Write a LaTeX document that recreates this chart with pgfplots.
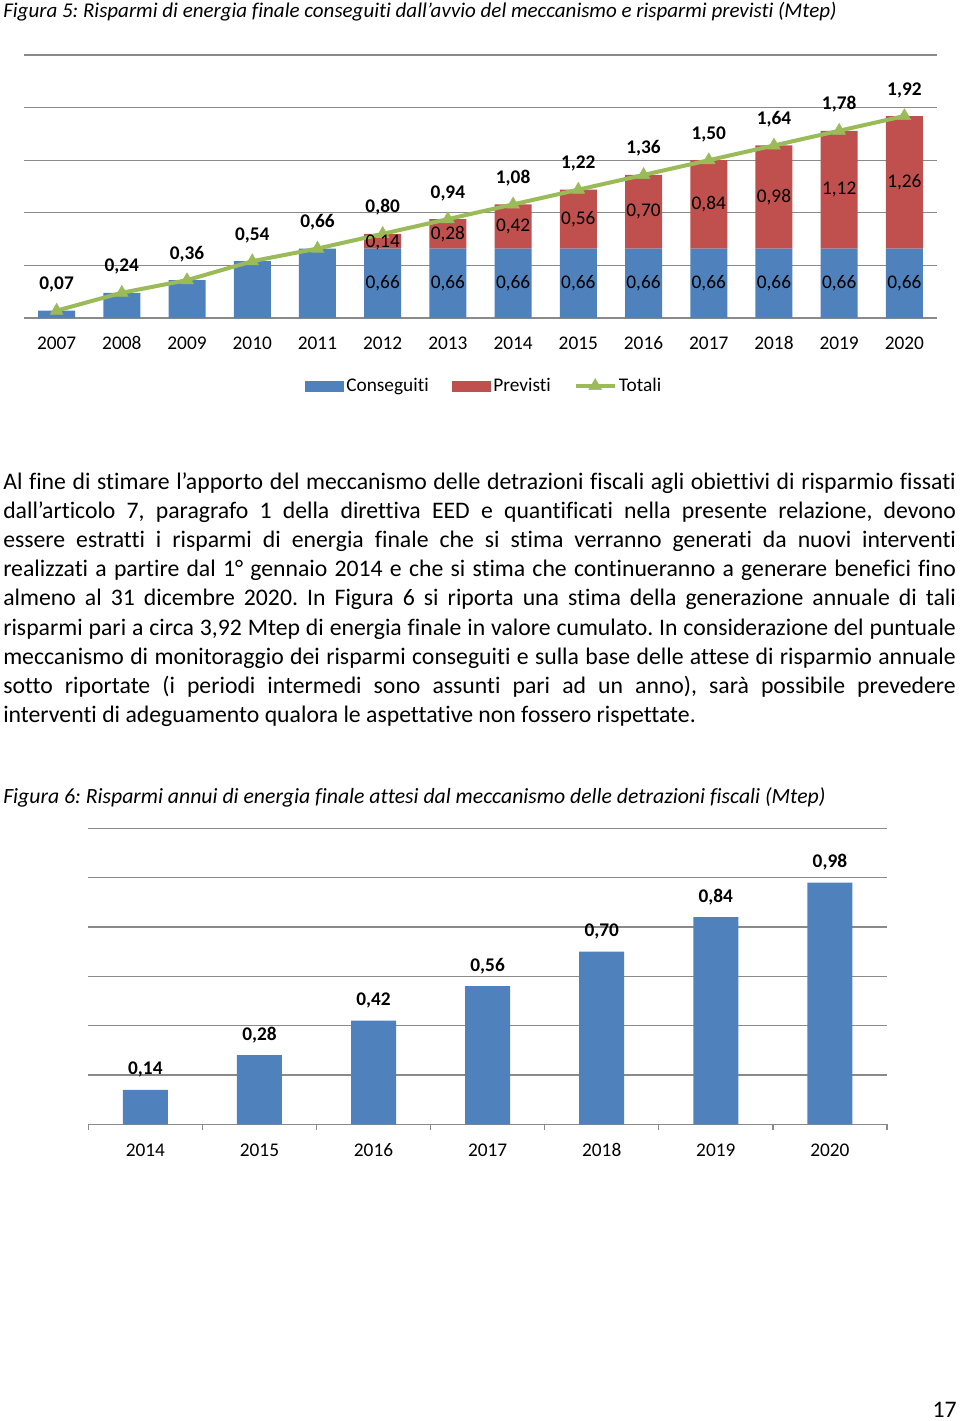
\documentclass[border=0pt]{standalone}
\usepackage{fontspec}
\setmainfont{Carlito}[Ligatures={NoCommon,NoContextual,NoRare}]
\usepackage{pgfplots}
\usepackage{pgfplotstable}
\pgfplotsset{compat=1.18}
\definecolor{cblue}{HTML}{4F81BD}
\definecolor{cred}{HTML}{C0504D}
\definecolor{cgreen}{HTML}{9BBB59}
\definecolor{gridgray}{HTML}{8A8A8A}
\newcommand{\chartfont}{\fontsize{14.5}{17}\selectfont}
\newcommand{\bodyfont}{\fontsize{17.8}{21.9}\selectfont}
\frenchspacing
\pgfplotsset{lineleg/.style={legend image code/.code={\draw[mark repeat=2,mark phase=2,##1] plot coordinates {(0pt,0pt) (14.5pt,0pt) (29pt,0pt)};}}}

\pgfplotstableread{
x c p t
0 0.07 0 0.07
1 0.24 0 0.24
2 0.36 0 0.36
3 0.54 0 0.54
4 0.66 0 0.66
5 0.66 0.14 0.80
6 0.66 0.28 0.94
7 0.66 0.42 1.08
8 0.66 0.56 1.22
9 0.66 0.70 1.36
10 0.66 0.84 1.50
11 0.66 0.98 1.64
12 0.66 1.12 1.78
13 0.66 1.26 1.92
}\figA

\pgfplotstableread{
x y label
5 0.33 0,66
6 0.33 0,66
7 0.33 0,66
8 0.33 0,66
9 0.33 0,66
10 0.33 0,66
11 0.33 0,66
12 0.33 0,66
13 0.33 0,66
5 0.72 0,14
6 0.80 0,28
7 0.87 0,42
8 0.94 0,56
9 1.01 0,70
10 1.08 0,84
11 1.15 0,98
12 1.22 1,12
13 1.29 1,26
}\figAlabels

\pgfplotstableread{
x v
0 0.14
1 0.28
2 0.42
3 0.56
4 0.70
5 0.84
6 0.98
}\figB

\begin{document}
\begin{tikzpicture}
\path[use as bounding box] (0pt,0pt) rectangle (720pt,-1065.75pt);

% Titles
\node[anchor=base west, inner sep=0pt] at (2.25pt,-13pt) {\fontsize{15.75}{19}\selectfont\itshape Figura 5: Risparmi di energia finale conseguiti dall’avvio del meccanismo e risparmi previsti (Mtep)};

% Chart 1: stacked bars
\begin{axis}[
  at={(18pt,-238.5pt)}, anchor=south west,
  scale only axis, width=684.75pt, height=197.25pt,
  ybar stacked, bar width=27.75pt,
  xmin=-0.5, xmax=13.5, ymin=0, ymax=2.5,
  ytick={0,0.5,1,1.5,2,2.5}, yticklabels={}, ymajorgrids,
  grid style={draw=gridgray, line width=1pt},
  axis line style={draw=none},
  major tick length=0pt,
  xtick={0,1,2,3,4,5,6,7,8,9,10,11,12,13},
  xticklabels={2007,2008,2009,2010,2011,2012,2013,2014,2015,2016,2017,2018,2019,2020},
  xticklabel style={font=\chartfont, anchor=base, yshift=-23.8pt},
]
\addplot[fill=cblue, draw=none] table[x=x, y=c] {\figA};
\addplot[fill=cred, draw=none] table[x=x, y=p] {\figA};
\end{axis}

% Chart 1 overlay: line, labels, legend
\begin{axis}[
  at={(18pt,-238.5pt)}, anchor=south west,
  scale only axis, width=684.75pt, height=197.25pt,
  xmin=-0.5, xmax=13.5, ymin=0, ymax=2.5,
  hide axis, clip=false,
  legend columns=3,
  legend cell align=left,
  legend style={at={(0.504,-0.2586)}, anchor=center, draw=none, fill=none,
    font=\chartfont, nodes={inner sep=1.8pt},
    /tikz/every even column/.append style={column sep=15.5pt}},
]
\addlegendimage{legend image code/.code={\fill[cblue] (0pt,-3.75pt) rectangle (29pt,3.75pt);}}
\addlegendentry{Conseguiti}
\addlegendimage{legend image code/.code={\fill[cred] (0pt,-3.75pt) rectangle (29pt,3.75pt);}}
\addlegendentry{Previsti}
\addplot[color=cgreen, line width=3pt, mark=triangle*, mark size=5.5pt,
  mark options={solid, line width=0.4pt, fill=cgreen, draw=cgreen},
  lineleg,
  nodes near coords={\pgfmathprintnumber[fixed,fixed zerofill,precision=2,use comma,assume math mode=true]{\pgfplotspointmeta}},
  every node near coord/.append style={font=\chartfont\bfseries, text=black, anchor=base, yshift=15.75pt},
] table[x=x, y=t] {\figA};
\addlegendentry{Totali}
\addplot[draw=none, mark=none, forget plot,
  nodes near coords, point meta=explicit symbolic,
  every node near coord/.append style={font=\chartfont, text=black, anchor=center},
] table[x=x, y=y, meta=label] {\figAlabels};
\end{axis}

% Body text
\begin{scope}[every node/.style={anchor=base west, inner sep=0pt, font=\bodyfont}]
\node at (2.25pt,-366.75pt) {\hbox to 714.5pt{Al fine di stimare l’apporto del meccanismo delle detrazioni fiscali agli obiettivi di risparmio fissati}};
\node at (2.25pt,-388.65pt) {\hbox to 714.5pt{dall’articolo 7, paragrafo 1 della direttiva EED e quantificati nella presente relazione, devono}};
\node at (2.25pt,-410.55pt) {\hbox to 714.5pt{essere estratti i risparmi di energia finale che si stima verranno generati da nuovi interventi}};
\node at (2.25pt,-432.45pt) {\hbox to 714.5pt{realizzati a partire dal 1° gennaio 2014 e che si stima che continueranno a generare benefici fino}};
\node at (2.25pt,-454.35pt) {\hbox to 714.5pt{almeno al 31 dicembre 2020. In Figura 6 si riporta una stima della generazione annuale di tali}};
\node at (2.25pt,-476.25pt) {\hbox to 714.5pt{risparmi pari a circa 3,92 Mtep di energia finale in valore cumulato. In considerazione del puntuale}};
\node at (2.25pt,-498.15pt) {\hbox to 714.5pt{meccanismo di monitoraggio dei risparmi conseguiti e sulla base delle attese di risparmio annuale}};
\node at (2.25pt,-520.05pt) {\hbox to 714.5pt{sotto riportate (i periodi intermedi sono assunti pari ad un anno), sarà possibile prevedere}};
\node at (2.25pt,-541.95pt) {interventi di adeguamento qualora le aspettative non fossero rispettate.};
\end{scope}

\node[anchor=base west, inner sep=0pt] at (2.25pt,-602.5pt) {\fontsize{16.3}{19}\selectfont\itshape Figura 6: Risparmi annui di energia finale attesi dal meccanismo delle detrazioni fiscali (Mtep)};

% Chart 2
\begin{axis}[
  at={(66.225pt,-843.225pt)}, anchor=south west,
  scale only axis, width=599pt, height=222pt,
  ybar, bar width=33.75pt,
  xmin=-0.5, xmax=6.5, ymin=0, ymax=1.2,
  ytick={0,0.2,0.4,0.6,0.8,1,1.2}, yticklabels={}, ymajorgrids,
  grid style={draw=gridgray, line width=1pt},
  axis line style={draw=none},
  ytick style={draw=none},
  xtick={0,1,2,3,4,5,6},
  xticklabels={2014,2015,2016,2017,2018,2019,2020},
  major tick length=0pt,
  minor xtick={-0.5,0.5,1.5,2.5,3.5,4.5,5.5,6.5},
  minor tick length=4.3pt, tick align=outside, xtick pos=left,
  minor x tick style={draw=gridgray, line width=1pt},
  xticklabel style={font=\chartfont, anchor=base, yshift=-24pt},
  clip=false,
  nodes near coords={\pgfmathprintnumber[fixed,fixed zerofill,precision=2,use comma,assume math mode=true]{\pgfplotspointmeta}},
  every node near coord/.append style={font=\chartfont\bfseries, text=black, anchor=base, yshift=11.25pt},
]
\addplot[fill=cblue, draw=none] table[x=x, y=v] {\figB};
\end{axis}

\node[anchor=base east, inner sep=0pt] at (717.75pt,-1063pt) {\bodyfont 17};
\end{tikzpicture}
\end{document}
